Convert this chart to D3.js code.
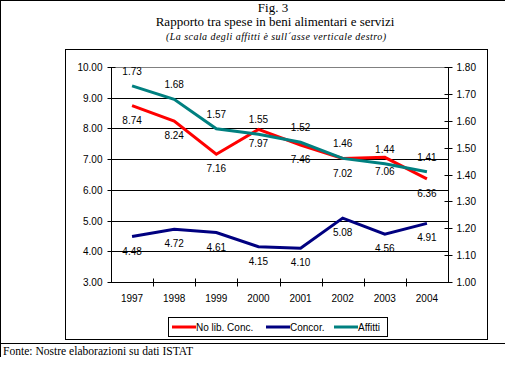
<!DOCTYPE html>
<html>
<head>
<meta charset="utf-8">
<script src="https://cdn.jsdelivr.net/npm/d3@7"></script>
<style>
html,body{margin:0;padding:0;background:#fff;}
svg{display:block;}
</style>
</head>
<body>
<svg id="chart" width="505" height="368"></svg>
<script>
const years = ["1997","1998","1999","2000","2001","2002","2003","2004"];
const noLibConc = [8.74, 8.24, 7.16, 7.97, 7.46, 7.02, 7.06, 6.36];
const concor = [4.48, 4.72, 4.61, 4.15, 4.10, 5.08, 4.56, 4.91];
const affitti = [1.73, 1.68, 1.57, 1.55, 1.52, 1.46, 1.44, 1.41];
const leftTicks = [3, 4, 5, 6, 7, 8, 9, 10];
const rightTicks = [1.0, 1.1, 1.2, 1.3, 1.4, 1.5, 1.6, 1.7, 1.8];
const seriesNames = ["No lib. Conc.", "Concor.", "Affitti"];
const titleLines = ["Fig. 3", "Rapporto tra spese in beni alimentari e servizi"];
const subtitle = "(La scala degli affitti è sull´asse verticale destro)";
const footer = "Fonte: Nostre elaborazioni su dati ISTAT";

const svg = d3.select("#chart");
const sans = "'Liberation Sans', Arial, sans-serif";
const serif = "'Liberation Serif', 'Times New Roman', serif";

// outer frame
svg.append("line").attr("x1",0).attr("x2",505).attr("y1",0.5).attr("y2",0.5).attr("stroke","#000");
svg.append("line").attr("x1",0.5).attr("x2",0.5).attr("y1",0).attr("y2",357).attr("stroke","#000");
svg.append("line").attr("x1",0).attr("x2",505).attr("y1",343.5).attr("y2",343.5).attr("stroke","#000");

// titles
svg.append("text").attr("x",273).attr("y",12).attr("text-anchor","middle")
  .attr("font-family",serif).attr("font-size",13).text(titleLines[0]);
svg.append("text").attr("x",275).attr("y",26).attr("text-anchor","middle")
  .attr("font-family",serif).attr("font-size",13).text(titleLines[1]);
svg.append("text").attr("x",166).attr("y",40)
  .attr("font-family",serif).attr("font-size",10).attr("font-style","italic")
  .attr("textLength",220).attr("lengthAdjust","spacing").text(subtitle);
svg.append("text").attr("x",3).attr("y",355)
  .attr("font-family",serif).attr("font-size",12)
  .attr("textLength",190).attr("lengthAdjust","spacingAndGlyphs").text(footer);

// chart box
svg.append("rect").attr("x",65.5).attr("y",49.5).attr("width",422).attr("height",290)
  .attr("fill","#fff").attr("stroke","#000");

const L = 111, R = 448, T = 67, B = 282;
const x = d3.scaleBand().domain(years).range([L, R]);
const yL = d3.scaleLinear().domain([3, 10]).range([B, T]);
const yR = d3.scaleLinear().domain([1, 1.8]).range([B, T]);
const cx = d => x(d) + x.bandwidth()/2;

// gridlines
svg.append("g").selectAll("line").data(leftTicks.filter(v => v > 3)).join("line")
  .attr("x1", L).attr("x2", R)
  .attr("y1", d => Math.round(yL(d)) + 0.5).attr("y2", d => Math.round(yL(d)) + 0.5)
  .attr("stroke", d => d === 10 ? "#808080" : "#000");

// left axis
const gL = svg.append("g").attr("transform", `translate(${L + 0.5},0.5)`)
  .call(d3.axisLeft(yL).tickValues(leftTicks).tickFormat(d3.format(".2f")).tickSize(4).tickPadding(5));
gL.selectAll(".tick line").attr("x1", 4);
gL.selectAll("text").attr("font-family", sans).attr("font-size", 10).attr("fill","#000");
gL.select(".domain").attr("d", `M0,${T}V${B}`);
gL.selectAll(".tick").attr("transform", d => `translate(0,${Math.round(yL(d))})`);

// right axis
const gR = svg.append("g").attr("transform", `translate(${R + 0.5},0.5)`)
  .call(d3.axisRight(yR).tickValues(rightTicks).tickFormat(d3.format(".2f")).tickSize(4).tickPadding(4));
gR.selectAll(".tick line").attr("x1", -4);
gR.selectAll("text").attr("font-family", sans).attr("font-size", 10).attr("fill","#000");
gR.select(".domain").attr("d", `M0,${T}V${B}`);
gR.selectAll(".tick").attr("transform", d => `translate(0,${Math.round(yR(d))})`);

// bottom axis
const gB = svg.append("g").attr("transform", `translate(0,${B + 0.5})`)
  .call(d3.axisBottom(x).tickSize(0).tickPadding(12));
gB.select(".domain").attr("d", `M${L},0H${R}`);
gB.selectAll("text").attr("font-family", sans).attr("font-size", 10).attr("fill","#000");
gB.selectAll("line.xt").data(years.slice(1)).join("line").attr("class","xt")
  .attr("x1", d => Math.round(x(d)) + 0.5).attr("x2", d => Math.round(x(d)) + 0.5)
  .attr("y1", -4).attr("y2", 4).attr("stroke", "#000");

// series
const series = [
  {name: seriesNames[0], values: noLibConc, scale: yL, color: "#FF0000", dy: 18},
  {name: seriesNames[1], values: concor, scale: yL, color: "#000080", dy: 18},
  {name: seriesNames[2], values: affitti, scale: yR, color: "#008080", dy: -11}
];
const order = [1, 0, 2];
order.forEach(i => {
  const s = series[i];
  const line = d3.line().x((d, j) => cx(years[j])).y(d => s.scale(d));
  svg.append("path").datum(s.values).attr("d", line)
    .attr("fill","none").attr("stroke", s.color).attr("stroke-width", 3).attr("stroke-linejoin","miter");
});
series.forEach(s => {
  svg.append("g").selectAll("text").data(s.values).join("text")
    .attr("x", (d, j) => cx(years[j])).attr("y", d => s.scale(d) + s.dy)
    .attr("text-anchor","middle").attr("font-family", sans).attr("font-size", 10)
    .text(d => d.toFixed(2));
});

// legend
const lg = svg.append("g");
lg.append("rect").attr("x",168.5).attr("y",317.5).attr("width",219).attr("height",19)
  .attr("fill","#fff").attr("stroke","#000");
const legendX = [172, 266, 334];
series.forEach((s, i) => {
  lg.append("line").attr("x1", legendX[i]).attr("x2", legendX[i] + 24)
    .attr("y1", 327).attr("y2", 327).attr("stroke", s.color).attr("stroke-width", 3);
  lg.append("text").attr("x", legendX[i] + 24).attr("y", 331)
    .attr("font-family", sans).attr("font-size", 10).text(s.name);
});
</script>
</body>
</html>
